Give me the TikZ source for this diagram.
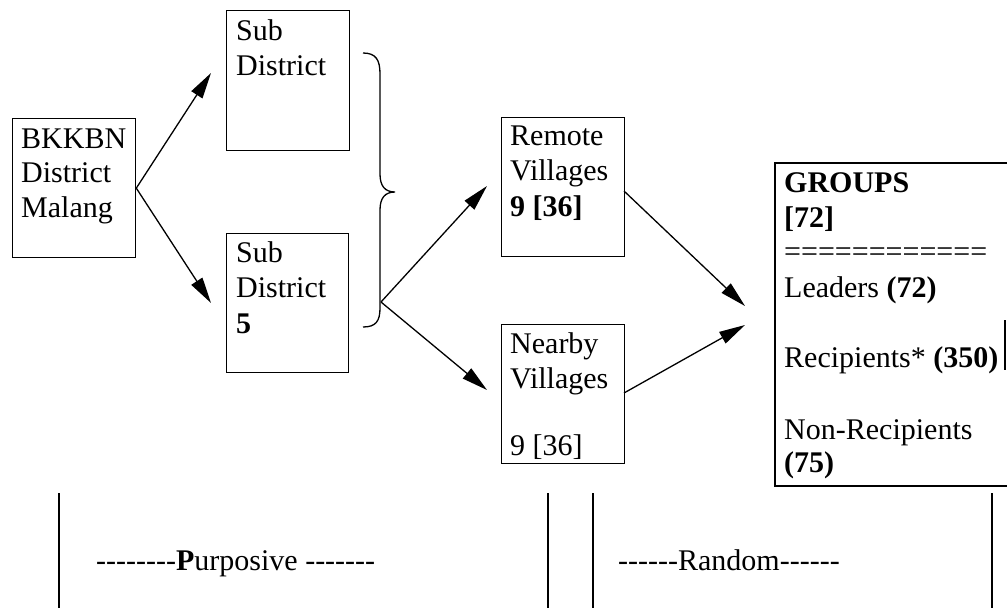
\documentclass[tikz,border=0pt]{standalone}
\usepackage{fontspec}
\setmainfont{Liberation Serif}
\usetikzlibrary{arrows.meta}
\newcommand\hy{\mbox{-}\kern0pt}
\tikzset{
  box/.style={draw, line width=1.3pt, inner sep=0pt, anchor=north west},
  txt/.style={anchor=base west, inner sep=0pt, font=\fontsize{30}{35}\selectfont},
  arr/.style={line width=1.3pt, -{Triangle[length=26pt,width=13pt]}},
  rule/.style={line width=1.3pt}
}
\begin{document}
\begin{tikzpicture}[x=1pt,y=-1pt]
\useasboundingbox (0,0) rectangle (1007,608);
% boxes
\node[box, minimum width=123pt, minimum height=139pt] (bk) at (12,118) {};
\node[box, minimum width=123pt, minimum height=140pt] (sd1) at (226,10) {};
\node[box, minimum width=122pt, minimum height=139pt] (sd2) at (226,233) {};
\node[box, minimum width=123pt, minimum height=139pt] (rv) at (501,117) {};
\node[box, minimum width=123pt, minimum height=139pt] (nv) at (501,324) {};
% groups box (right side cut off)
\coordinate (gtl) at (775,163);
\coordinate (gbl) at (775,486);
\draw[rule] (1007,163) -- (gtl) -- (gbl) -- (1007,486);
\draw[rule] (1005,320) -- (1005,370);
% texts
\node[txt] (t1) at (21,148) {BKKBN};
\node[txt] (t2) at (21,182) {District};
\node[txt] (t3) at (21,217) {Malang};
\node[txt] (t4) at (236,40) {Sub};
\node[txt] (t5) at (236,75) {District};
\node[txt] (t6) at (236,262) {Sub};
\node[txt] (t7) at (236,297) {District};
\node[txt] (t8) at (236,333) {\textbf{5}};
\node[txt] (t9) at (510,145) {Remote};
\node[txt] (t10) at (510,180) {Villages};
\node[txt] (t11) at (510,216) {\textbf{9 [36]}};
\node[txt] (t12) at (510,353) {Nearby};
\node[txt] (t13) at (510,388) {Villages};
\node[txt] (t14) at (510,455) {9 [36]};
\node[txt] (g1) at (784,192) {\textbf{GROUPS}};
\node[txt] (g2) at (784,227) {\textbf{[72]}};
\node[txt] (g3) at (784,261) {============};
\node[txt] (g4) at (784,297) {Leaders \textbf{(72)}};
\node[txt] (g5) at (784,367) {Recipients* \textbf{(350)}};
\node[txt] (g6) at (784,439) {Non-Recipients};
\node[txt] (g7) at (784,472) {\textbf{(75)}};
% brace
\coordinate (bo) at (381,302);
\draw[rule] (363,53) .. controls (376,53) and (380,60) .. (380,74)
  -- (380,174) .. controls (380,186) and (385,192) .. (395,192)
  .. controls (385,192) and (380,198) .. (380,210)
  -- (380,308) .. controls (380,321) and (376,327) .. (363,327);
% arrows
\coordinate (a1) at (211,73);
\coordinate (a2) at (211,303);
\coordinate (a3) at (487,186);
\coordinate (a4) at (487,390);
\coordinate (a5) at (745,306);
\coordinate (a6) at (745,325);
\coordinate (r1) at (624,191);
\coordinate (n1) at (624,393);
\draw[arr] (bk.east) -- (a1);
\draw[arr] (bk.east) -- (a2);
\draw[arr] (bo) -- (a3);
\draw[arr] (bo) -- (a4);
\draw[arr] (r1) -- (a5);
\draw[arr] (n1) -- (a6);
% bottom section
\draw[rule] (59,493) -- (59,608);
\draw[rule] (548,493) -- (548,608);
\draw[rule] (593,493) -- (593,608);
\draw[rule] (992,493) -- (992,608);
\node[txt] (p) at (96,570) {\hy\hy\hy\hy\hy\hy\hy\hy\textbf{P}urposive \hy\hy\hy\hy\hy\hy\hy};
\node[txt] (r) at (618,570) {\hy\hy\hy\hy\hy\hy Random\hy\hy\hy\hy\hy\hy};
\end{tikzpicture}
\end{document}
